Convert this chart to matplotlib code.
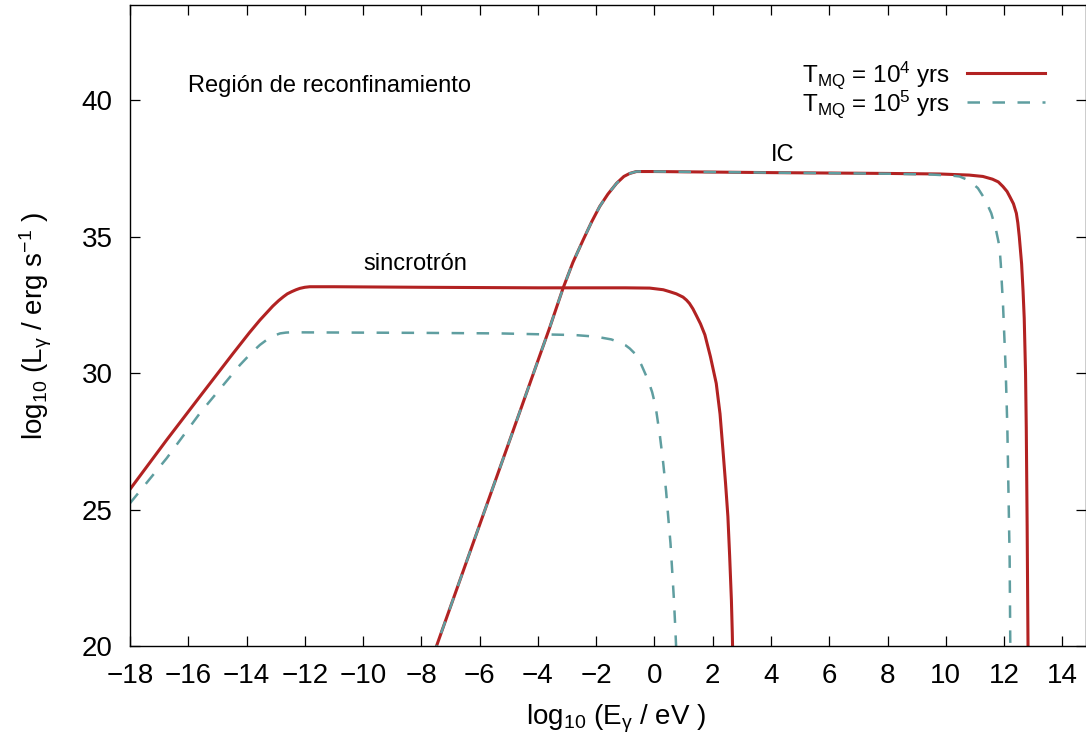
import matplotlib
matplotlib.use("Agg")
import matplotlib.pyplot as plt

plt.rcParams['font.family'] = ['Liberation Sans', 'DejaVu Sans']
plt.rcParams['mathtext.fontset'] = 'custom'
plt.rcParams['mathtext.rm'] = 'Liberation Sans'
plt.rcParams['mathtext.it'] = 'Liberation Sans:italic'
plt.rcParams['mathtext.default'] = 'regular'

# --- data ---
# Synchrotron, T_MQ = 1e4 yrs
sync4_x = [-18, -16.74, -15.6, -14.46, -13.9, -13.54, -13.1, -12.9, -12.74, -12.6, -12.45, -12.3, -12.17,
           -12.0, -11.83, -11.0, -8.0, -4.0, -1.0, -0.16, 0.3, 0.52, 0.75, 0.98, 1.1, 1.2, 1.32, 1.44,
           1.58, 1.73, 1.92, 2.12, 2.25, 2.35, 2.44, 2.52, 2.58, 2.64, 2.67, 2.69]
sync4_y = [25.74, 27.55, 29.14, 30.72, 31.48, 31.94, 32.45, 32.65, 32.79, 32.90, 32.98, 33.05, 33.10,
           33.14, 33.16, 33.16, 33.14, 33.12, 33.12, 33.11, 33.05, 32.98, 32.90, 32.78, 32.67, 32.55, 32.35, 32.10,
           31.80, 31.40, 30.60, 29.62, 28.50, 27.18, 25.95, 24.74, 23.30, 21.68, 20.50, 19.50]
# Synchrotron, T_MQ = 1e5 yrs
sync5_x = [-18, -16.74, -15.6, -14.23, -13.85, -13.54, -13.2, -13.0, -12.85, -12.65, -12.5, -8.0, -5.31,
           -2.73, -2.0, -1.48, -1.2, -1.0, -0.85, -0.68, -0.45, -0.22, -0.08, 0.04, 0.19, 0.30, 0.40,
           0.48, 0.55, 0.61, 0.665, 0.715, 0.75]
sync5_y = [25.23, 26.88, 28.53, 30.29, 30.72, 31.03, 31.30, 31.39, 31.45, 31.48, 31.49, 31.47, 31.45,
           31.39, 31.33, 31.23, 31.12, 31.02, 30.90, 30.72, 30.30, 29.74, 29.30, 28.77, 27.67, 26.70, 25.66,
           24.62, 23.76, 22.72, 21.75, 20.65, 19.80]
# Inverse Compton, T_MQ = 1e4 yrs
ic4_x = [-7.6, -7.48, -5.0, -3.99, -3.6, -3.14, -2.8, -2.45, -2.15, -1.88, -1.6, -1.30, -1.05, -0.85,
         -0.62, 0.0, 4.0, 8.0, 9.79, 10.8, 11.27, 11.6, 11.8, 11.96, 12.1, 12.2, 12.32, 12.42, 12.47,
         12.52, 12.56, 12.60, 12.65, 12.69, 12.735, 12.76, 12.79, 12.82, 12.83]
ic4_y = [19.6, 20.0, 27.44, 30.48, 31.65, 33.10, 34.05, 34.87, 35.55, 36.10, 36.55, 36.95, 37.20, 37.31,
         37.38, 37.38, 37.34, 37.31, 37.29, 37.25, 37.20, 37.10, 37.00, 36.83, 36.65, 36.45, 36.20, 35.85, 35.50,
         35.00, 34.50, 34.00, 33.00, 32.00, 30.00, 28.00, 24.40, 20.00, 19.50]
# Inverse Compton, T_MQ = 1e5 yrs
ic5_x = [-7.6, -7.48, -5.0, -3.99, -3.6, -3.14, -2.8, -2.45, -2.15, -1.88, -1.6, -1.30, -1.05, -0.85,
         -0.62, 0.0, 4.0, 8.0, 9.5, 10.2, 10.47, 10.8, 11.10, 11.35, 11.56, 11.72, 11.84, 11.885, 11.92,
         11.96, 12.05, 12.11, 12.15, 12.19, 12.21, 12.22]
ic5_y = [19.6, 20.0, 27.44, 30.48, 31.65, 33.10, 34.05, 34.87, 35.55, 36.10, 36.55, 36.95, 37.20, 37.31,
         37.38, 37.38, 37.34, 37.30, 37.27, 37.23, 37.20, 37.05, 36.77, 36.35, 35.85, 35.25, 34.63, 34.00, 33.30,
         32.55, 30.23, 28.03, 25.59, 23.15, 20.22, 19.50]

x_ticks = list(range(-18, 15, 2))
y_ticks = [20, 25, 30, 35, 40]
labels = [r'T$_{MQ}$ = 10$^{4}$ yrs', r'T$_{MQ}$ = 10$^{5}$ yrs']

red = '#b22222'
teal = '#5f9ea0'

fig = plt.figure(figsize=(10.86, 7.40), dpi=100)
ax = fig.add_axes([130/1086, 1 - 646/740, 1 - 130/1086, (646 - 5)/740])

l1, = ax.plot(sync4_x, sync4_y, color=red, lw=2.2, solid_joinstyle='round')
ax.plot(ic4_x, ic4_y, color=red, lw=2.2, solid_joinstyle='round')
l2, = ax.plot(sync5_x, sync5_y, color=teal, lw=1.8, dashes=(5, 5))
ax.plot(ic5_x, ic5_y, color=teal, lw=1.8, dashes=(5, 5))

ax.set_xlim(-18, 14.81)
ax.set_ylim(20, 43.48)
ax.set_xticks(x_ticks)
ax.set_yticks(y_ticks)
ax.set_xticklabels([str(t).replace('-', '\u2212') for t in x_ticks])
ax.tick_params(direction='in', length=7.2, width=0.9, labelsize=20, top=True, right=True)
ax.tick_params(axis='x', pad=12)
ax.tick_params(axis='y', pad=12.5)
for s in ax.spines.values():
    s.set_linewidth(1.0)

ax.set_xlabel(r'log$_{10}$ (E$_{\gamma}$ / eV )', fontsize=20, va='top')
ax.xaxis.set_label_coords(0.509, -0.089)
ax.set_ylabel(r'log$_{10}$ (L$_{\gamma}$ / erg s$^{-1}$ )', fontsize=20)
ax.yaxis.set_label_coords(-0.079, 0.5)

ax.text(-16, 40.5, 'Región de reconfinamiento', fontsize=17, ha='left', va='center')
ax.text(-10, 34, 'sincrotrón', fontsize=17, ha='left', va='center')
ax.text(4, 38, 'IC', fontsize=17, ha='left', va='center')

leg = ax.legend([l1, l2], labels, loc='center right', bbox_to_anchor=(0.957, 0.868),
                frameon=False, fontsize=17.5, markerfirst=False, handlelength=3.2,
                handletextpad=0.7, borderpad=0, borderaxespad=0, labelspacing=-0.1)

fig.savefig('out.png', dpi=100)
